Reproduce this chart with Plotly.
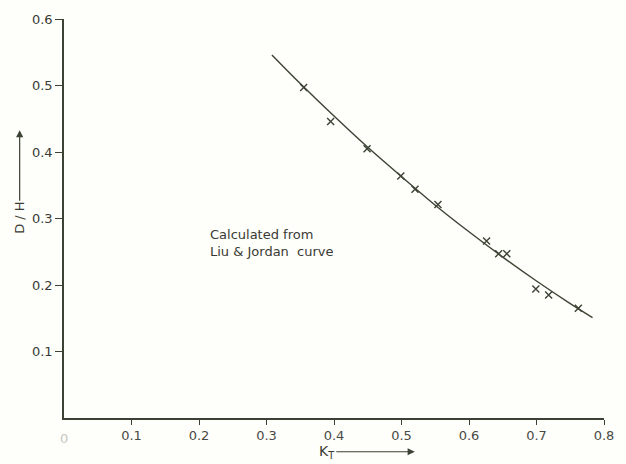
import plotly.graph_objects as go

# Measured points (crosses)
pts_x = [0.355, 0.395, 0.449, 0.499, 0.520, 0.554, 0.626, 0.644, 0.656, 0.699, 0.718, 0.762]
pts_y = [0.497, 0.446, 0.405, 0.364, 0.344, 0.321, 0.266, 0.247, 0.247, 0.194, 0.185, 0.165]

# Liu & Jordan curve
curve_x = [0.308, 0.350, 0.400, 0.450, 0.500, 0.550, 0.600, 0.650, 0.700, 0.750, 0.783]
curve_y = [0.546, 0.503, 0.454, 0.407, 0.363, 0.320, 0.280, 0.242, 0.206, 0.172, 0.151]

x_ticks = [0.1, 0.2, 0.3, 0.4, 0.5, 0.6, 0.7, 0.8]
y_ticks = [0.1, 0.2, 0.3, 0.4, 0.5, 0.6]

ink = "#3c4234"
txt = "#3a3a34"
font = "DejaVu Sans"

W, H = 626, 464
l, r, t, b = 64, 14, 16, 46
pw, ph = W - l - r, H - t - b
def px(xp): return (xp - l) / pw
def py(yp): return (H - b - yp) / ph

fig = go.Figure()
fig.add_trace(go.Scatter(x=curve_x, y=curve_y, mode="lines",
                         line=dict(color=ink, width=1.4, shape="spline", smoothing=1.0),
                         hoverinfo="skip"))
fig.add_trace(go.Scatter(x=pts_x, y=pts_y, mode="markers",
                         marker=dict(symbol="x-thin", size=7, line=dict(color=ink, width=1.4))))

fig.update_layout(
    width=W, height=H,
    margin=dict(l=l, r=r, t=t, b=b),
    paper_bgcolor="#fefefa", plot_bgcolor="#fefefa",
    showlegend=False,
    font=dict(family=font, color=txt, size=13),
    xaxis=dict(range=[0, 0.8], tickvals=x_ticks, ticktext=[f"{v:.1f}" for v in x_ticks],
               showgrid=False, zeroline=False, showline=True, linecolor=ink, linewidth=1.6,
               ticks="outside", ticklen=5, tickcolor=ink, tickwidth=1.2,
               tickfont=dict(size=13, color="#4a4a44")),
    yaxis=dict(range=[0, 0.6], tickvals=y_ticks, ticktext=[f"{v:.1f}" for v in y_ticks],
               showgrid=False, zeroline=False, showline=True, linecolor=ink, linewidth=1.6,
               ticks="outside", ticklen=7, tickcolor=ink, tickwidth=1.2,
               tickfont=dict(size=13, color=txt)),
)

fig.add_annotation(x=0, y=0, xref="x", yref="y", text="0", showarrow=False, yshift=-20,
                   font=dict(size=13, color="#c8c8c0"))
fig.add_annotation(x=px(210), y=py(242), xref="paper", yref="paper",
                   text="Calculated from<br>Liu & Jordan  curve",
                   showarrow=False, xanchor="left", yanchor="middle", align="left",
                   font=dict(size=13, color=txt))

# Axis titles with arrows (text sits at the arrow tail)
fig.add_annotation(x=px(420), y=py(452), xref="paper", yref="paper", text="K<sub>T</sub>",
                   ax=-88, ay=0, axref="pixel", ayref="pixel",
                   showarrow=True, arrowhead=2, arrowsize=1.2, arrowwidth=1.2, arrowcolor=ink,
                   font=dict(size=14, color=txt))
fig.add_annotation(x=px(19), y=py(128), xref="paper", yref="paper", text="D / H",
                   ax=0, ay=88, axref="pixel", ayref="pixel", textangle=-90,
                   showarrow=True, arrowhead=2, arrowsize=1.2, arrowwidth=1.2, arrowcolor=ink,
                   font=dict(size=13, color=txt))

fig.write_html("out.html", config={"displayModeBar": False},
               post_script="document.body.style.margin='0';document.body.style.padding='0';"
                           "document.body.style.overflow='hidden';")
